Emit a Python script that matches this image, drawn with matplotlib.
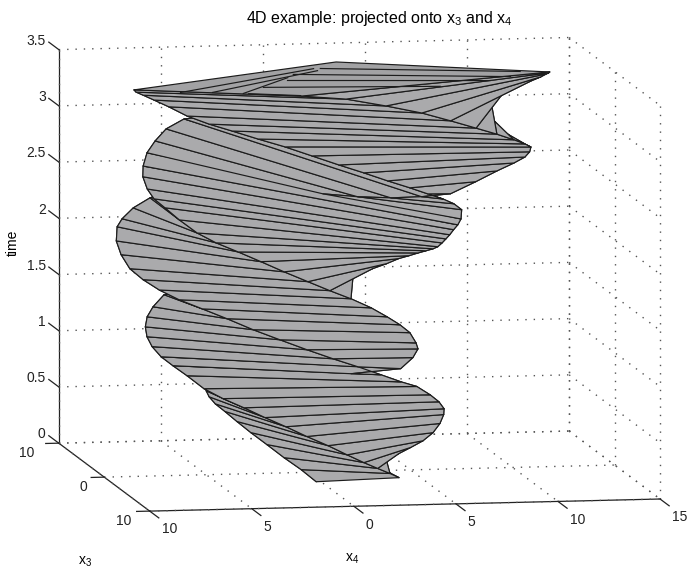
import matplotlib
matplotlib.use("Agg")
import matplotlib.pyplot as plt
from mpl_toolkits.mplot3d import proj3d
from mpl_toolkits.mplot3d.art3d import Poly3DCollection

plt.rcParams['font.family'] = ['Liberation Sans', 'DejaVu Sans']
plt.rcParams['mathtext.default'] = 'regular'

time = [round(0.0606 * i, 3) for i in range(56)]

x3_a = [2.6,1.0,-0.6,-2.5,-4.1,-5.4,-6.4,-6.7,-6.8,-6.6,-6.4,-6.0,-4.5,-2.7,-1.9,-3.0,-3.5,-3.3,-4.3,-4.7,-5.1,-5.8,-6.6,-7.1,-7.9,-8.9,-10.0,-11.0,-11.8,-12.8,-14.7,-16.3,-17.0,-17.9,-19.5,-20.6,-22.4,-23.8,-25.2,-26.0,-25.8,-23.9,-21.0,-18.4,-16.3,-14.3,-12.2,-10.2,-9.3,-9.9,-10.7,-11.1,-10.3,-9.1,-7.5,-5.8]
x4_a = [-0.22,-0.60,-1.08,-1.50,-1.93,-2.32,-2.69,-3.09,-3.37,-3.56,-3.61,-2.47,0.12,2.67,4.92,5.76,6.12,5.98,5.90,5.50,4.96,4.34,3.53,2.61,1.71,0.77,-0.12,-1.01,-1.92,-2.62,-3.07,-3.42,-3.80,-3.93,-3.79,-3.53,-2.94,-2.23,-1.38,-0.32,3.40,6.89,8.70,9.33,9.60,9.88,10.07,10.20,10.55,11.11,12.02,13.34,13.65,13.64,13.41,13.09]

x3_b = [2.0,2.7,3.1,3.3,2.9,2.1,1.3,0.3,-0.5,-1.5,-2.3,-3.3,-5.2,-6.2,-6.9,-7.9,-8.8,-9.7,-10.6,-11.5,-12.9,-13.0,-13.1,-13.1,-12.5,-11.9,-10.7,-9.5,-8.1,-6.7,-5.3,-4.4,-3.6,-2.8,-2.3,-1.7,-1.4,-2.1,-1.9,-1.4,-1.0,-0.9,-1.1,-1.6,-2.1,-2.9,-3.7,-4.2,-4.7,-4.9,-5.4,-6.2,-6.3,-5.8,-4.8,-3.5]
x4_b = [3.97,3.37,2.68,1.96,1.23,0.47,-0.39,-1.19,-2.04,-2.84,-3.69,-4.40,-4.81,-5.28,-5.70,-5.92,-5.97,-5.85,-5.56,-5.07,-4.22,-0.43,5.08,6.04,6.59,7.04,7.28,7.46,7.53,7.57,7.49,7.50,7.51,7.52,7.60,7.67,7.76,7.95,7.52,6.88,6.05,5.15,4.11,3.05,1.94,0.80,-0.34,-1.55,-2.71,-3.79,-4.76,-5.48,-6.18,-6.82,-7.39,-7.79]

x3_c = [-2.2,-1.6,-1.0,-0.7,-0.6,-0.9,-1.5,-2.1,-1.8,-1.9,-2.0,-2.5,-2.0,-2.2,-2.7,-3.2,-4.0,-5.1,-6.2,-7.6,-8.6,-9.4,-10.4,-11.5,-12.8,-14.9,-16.9,-19.0,-19.3,-20.4,-21.2,-21.1,-19.8,-18.0,-15.6,-12.5,-9.5,-6.5,-4.0,-2.2,-0.9,-2.2,-3.2,-3.4,-3.1,-2.6,-2.0,-1.0,-0.3,-0.1,0.0,-0.3,-0.8,-1.1,-1.4,-0.6]
x4_c = [3.62,4.13,4.63,5.14,5.72,6.28,6.75,7.07,7.02,6.79,6.38,5.84,4.96,4.02,3.01,1.90,0.80,-0.28,-1.35,-2.32,-3.30,-4.26,-5.01,-5.56,-5.92,-5.88,-5.67,-5.16,-4.85,-4.06,-3.06,-2.05,-1.10,-0.10,0.87,1.82,2.80,3.84,4.91,6.01,7.14,8.66,9.92,10.80,11.27,11.39,11.32,10.80,10.10,9.23,8.19,7.01,5.71,4.02,2.13,-0.24]

cap_x3 = [-3.5, -10.1, -5.8, -0.6]
cap_x4 = [-7.79, 3.58, 13.09, -0.24]
cap_lines_x3 = [(-2.3, -8.2), (-2.1, -7.6), (-1.6, -5.8), (-8.2, -6.0), (-6.7, -4.6), (-5.0, -3.6), (-3.2, -2.3), (-0.6, -1.5)]
cap_lines_x4 = [(-5.75, 2.08), (-4.23, 2.14), (-2.83, 0.28), (2.41, 11.71), (0.75, 10.92), (0.09, 9.72), (-1.49, 6.97), (-0.24, -2.59)]

x3_ticks = [-10, 0, 10]
x4_ticks = [-10, -5, 0, 5, 10, 15]
t_ticks = [0, 0.5, 1, 1.5, 2, 2.5, 3, 3.5]
x3_labels = ['10', '0', '10']
x4_labels = ['10', '5', '0', '5', '10', '15']
t_labels = ['0', '0.5', '1', '1.5', '2', '2.5', '3', '3.5']

SURF = '#aaaaac'
EDGE = '#1c1c1c'
GRID = '#555555'
INK = '#222222'
DOT = (0, (1, 5))

fig = plt.figure(figsize=(6.87, 5.69), dpi=100)
ax = fig.add_axes([0.012, 0.0044, 1.0, 1.0], projection='3d')
ax.computed_zorder = False
ax.set_proj_type('ortho')
ax.view_init(elev=7.65, azim=-10.1)
ax.set_box_aspect((1, 1, 0.766), zoom=1.4225)
ax.set_xlim(-10, 10, view_margin=0)
ax.set_ylim(-10, 15, view_margin=0)
ax.set_zlim(0, 3.5, view_margin=0)
ax.patch.set_alpha(0)

ax.set_xticks([])
ax.set_yticks([])
ax.set_zticks([])
ax.grid(False)
for axis in (ax.xaxis, ax.yaxis, ax.zaxis):
    axis.set_pane_color((1, 1, 1, 0))
    axis.pane.set_edgecolor((1, 1, 1, 0))
    axis.line.set_color(INK)
    axis.line.set_linewidth(0.9)
ax.zaxis.set_ticks_position('lower')

x3lo, x3hi = x3_ticks[0], x3_ticks[-1]
x4lo, x4hi = x4_ticks[0], x4_ticks[-1]
tlo, thi = t_ticks[0], t_ticks[-1]
grid_style = dict(color=GRID, ls=DOT, lw=1.0, zorder=0, clip_on=False)
tick_style = dict(color=INK, lw=0.9, zorder=1, clip_on=False)

for v in x3_ticks:
    ax.plot([v, v], [x4lo, x4hi], [tlo, tlo], **grid_style)
    ax.plot([v, v], [x4hi, x4hi], [tlo, thi], **grid_style)
    ax.plot([v, v], [x4lo, x4lo - 0.64], [tlo, tlo], **tick_style)
for v in x4_ticks:
    ax.plot([x3lo, x3hi], [v, v], [tlo, tlo], **grid_style)
    ax.plot([x3lo, x3lo], [v, v], [tlo, thi], **grid_style)
    ax.plot([x3hi, x3hi + 2], [v, v], [tlo, tlo], **tick_style)
for v in t_ticks:
    ax.plot([x3lo, x3lo], [x4lo, x4hi], [v, v], **grid_style)
    ax.plot([x3lo, x3hi], [x4hi, x4hi], [v, v], **grid_style)
    ax.plot([x3lo, x3lo - 2.2], [x4lo, x4lo], [v, v], **tick_style)

a = list(zip(x3_a, x4_a))
b = list(zip(x3_b, x4_b))
c = list(zip(x3_c, x4_c))
n = 0
for i in range(len(time) - 1):
    t0, t1 = time[i], time[i + 1]
    left, mid, right = sorted((a, b, c), key=lambda s: s[i][1])
    span = right[i][1] - left[i][1]
    frac = (mid[i][1] - left[i][1]) / span if span else 0.5
    front = mid[i][0] > left[i][0] + frac * (right[i][0] - left[i][0])
    pairs = [(left, right), (left, mid), (mid, right)] if front else [(left, mid), (mid, right), (left, right)]
    for p, q in pairs:
        face = [(*p[i], t0), (*q[i], t0), (*q[i + 1], t1), (*p[i + 1], t1)]
        n += 1
        ax.add_collection3d(Poly3DCollection([face], facecolors=SURF, edgecolors=EDGE, linewidths=0.85,
                                             zorder=10 + n), autolim=False)

T = time[-1]
ax.add_collection3d(Poly3DCollection([[(u, w, T) for u, w in zip(cap_x3, cap_x4)]], facecolors='#a2a2a4',
                                     edgecolors=EDGE, linewidths=0.85, zorder=1000), autolim=False)
for (p0, p1), (q0, q1) in zip(cap_lines_x3, cap_lines_x4):
    ax.plot([p0, p1], [q0, q1], [T, T], color=EDGE, lw=0.85, zorder=1001)

fig.canvas.draw()


def tick_text(x, y, z, s, ha):
    """Place a tick label at the screen position of a point of the 3D scale."""
    X, Y, _ = proj3d.proj_transform(x, y, z, ax.get_proj())
    px, py = ax.transData.transform((X, Y))
    fig.text(px / fig.bbox.width, py / fig.bbox.height, s, ha=ha, va='center', fontsize=10, color=INK)


for v, s, d in zip(x3_ticks, x3_labels, [-1.22, -0.83, -0.88]):
    tick_text(v, x4lo + d, -0.08, s, 'right')
for v, s in zip(x4_ticks, x4_labels):
    tick_text(15.3, v - 0.6, tlo, s, 'left')
for v, s in zip(t_ticks, t_labels):
    tick_text(x3lo, x4lo - 0.64, v + 0.08, s, 'right')

fig.text(0.5525, 0.968, '4D example: projected onto x$_{3}$ and x$_{4}$', ha='center', va='center', fontsize=11.5)
fig.text(0.019, 0.573, 'time', rotation=90, ha='center', va='center', fontsize=10)
fig.text(0.124, 0.012, 'x$_{3}$', ha='center', va='center', fontsize=10)
fig.text(0.512, 0.018, 'x$_{4}$', ha='center', va='center', fontsize=10)

fig.savefig('out.png', dpi=100)
